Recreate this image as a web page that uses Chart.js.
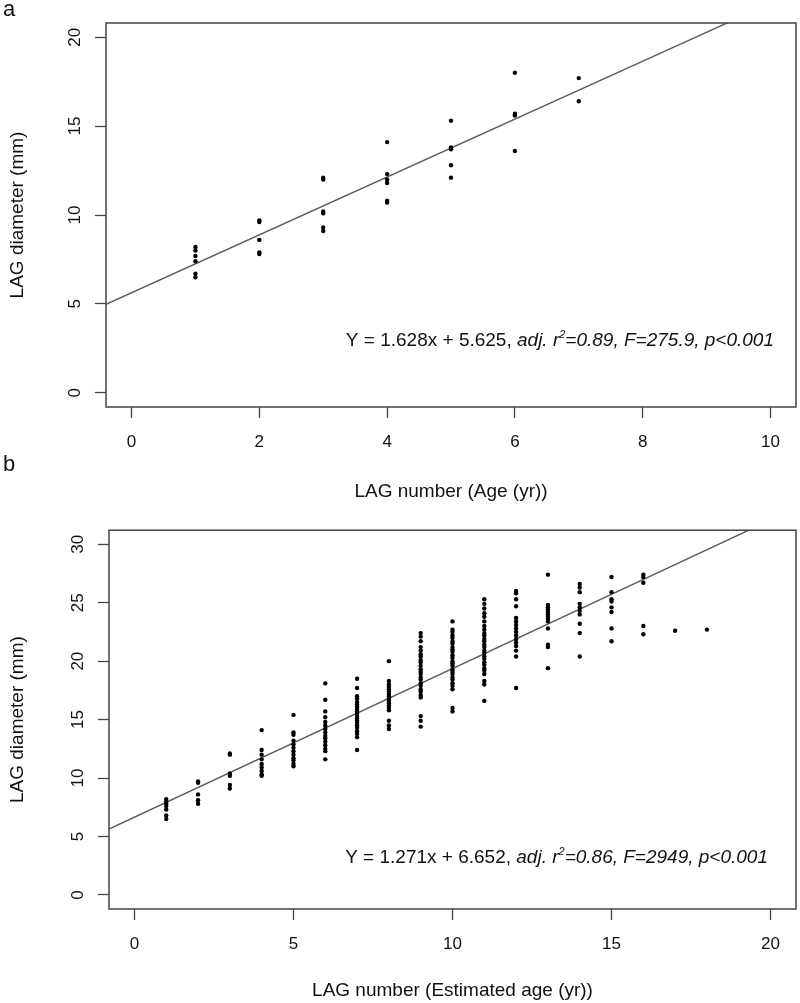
<!DOCTYPE html>
<html>
<head>
<meta charset="utf-8">
<script src="https://cdn.jsdelivr.net/npm/chart.js@4.4.0/dist/chart.umd.min.js"></script>
<style>
  body { margin: 0; background: #fff; width: 800px; height: 1003px; position: relative; overflow: hidden; font-family: "Liberation Sans", Arial, sans-serif; }
  .wrap { position: absolute; left: 0; width: 800px; }
  #wa { top: 0; height: 510px; }
  #wb { top: 510px; height: 493px; }
  .lab { position: absolute; left: 3px; font-size: 22px; color: #111; }
</style>
</head>
<body>
<div class="wrap" id="wa"><canvas id="chartA"></canvas></div>
<div class="wrap" id="wb"><canvas id="chartB"></canvas></div>
<div class="lab" style="top:-4px">a</div>
<div class="lab" style="top:451px">b</div>
<script>
// panel a - known age
const agesA = [1, 2, 3, 4, 5, 6, 7];
const diamA = [
  [8.2, 8.0, 7.7, 7.4, 6.7, 6.5],
  [9.7, 9.6, 8.6, 7.9, 7.8],
  [12.1, 12.0, 10.2, 10.1, 9.3, 9.1],
  [14.1, 12.3, 12.0, 11.8, 10.8, 10.7],
  [15.3, 13.8, 13.7, 12.8, 12.1],
  [18.0, 15.7, 15.6, 13.6],
  [17.7, 16.4]
];
const xTicksA = [0, 2, 4, 6, 8, 10];
const yTicksA = [0, 5, 10, 15, 20];
const fitA = [1.628, 5.625]; // slope, intercept
const noteA = ["Y = 1.628x + 5.625, ", "adj. r", "2", "=0.89, F=275.9, p<0.001"];

// panel b - estimated age
const agesB = [1, 2, 3, 4, 5, 6, 7, 8, 9, 10, 11, 12, 13, 14, 15, 16, 17, 18];
const diamB = [
  [8.2, 8.0, 7.8, 7.6, 7.3, 6.8, 6.5],
  [9.7, 9.6, 8.6, 8.1, 7.8],
  [12.1, 12.0, 10.4, 10.2, 9.4, 9.1],
  [14.1, 12.4, 12.0, 11.6, 11.2, 10.9, 10.6, 10.3, 10.2],
  [15.4, 13.9, 13.7, 13.2, 12.9, 12.6, 12.3, 12.0, 11.7, 11.5, 11.2, 11.0],
  [18.1, 16.7, 15.7, 15.2, 14.8, 14.5, 14.2, 13.9, 13.6, 13.4, 13.1, 12.8, 12.5, 12.3, 11.6],
  [18.5, 17.7, 17.0, 16.8, 16.5, 16.3, 16.1, 15.9, 15.7, 15.5, 15.3, 15.1, 14.9, 14.7, 14.5, 14.3, 14.0, 13.8, 13.5, 12.4],
  [20.0, 18.3, 18.0, 17.8, 17.6, 17.4, 17.2, 17.0, 16.8, 16.6, 16.4, 16.2, 16.0, 15.8, 14.9, 14.5, 14.2],
  [22.4, 22.1, 21.7, 21.2, 20.9, 20.6, 20.4, 20.1, 19.9, 19.6, 19.3, 19.1, 18.9, 18.6, 18.4, 18.1, 17.9, 17.6, 17.4, 17.1, 16.9, 15.3, 14.9, 14.4],
  [23.4, 22.7, 22.5, 22.2, 22.0, 21.7, 21.5, 21.2, 21.0, 20.8, 20.5, 20.3, 20.0, 19.8, 19.6, 19.3, 19.1, 18.9, 18.6, 18.4, 18.1, 17.9, 17.6, 16.0, 15.7],
  [25.3, 24.9, 24.5, 24.1, 23.8, 23.4, 23.0, 22.7, 22.4, 22.2, 21.9, 21.7, 21.4, 21.2, 20.9, 20.7, 20.4, 20.2, 19.9, 19.7, 19.4, 19.2, 18.9, 18.3, 18.0, 16.6],
  [26.0, 25.8, 25.3, 24.7, 23.7, 23.4, 23.1, 22.8, 22.5, 22.2, 21.9, 21.6, 21.3, 20.9, 20.4, 17.7],
  [27.4, 24.8, 24.6, 24.4, 24.2, 24.0, 23.8, 23.6, 23.4, 22.8, 21.4, 21.2, 19.4],
  [26.6, 26.3, 25.9, 24.9, 24.6, 24.3, 24.0, 23.2, 22.4, 20.4],
  [27.2, 25.9, 25.3, 25.1, 24.6, 24.2, 22.8, 21.7],
  [27.4, 27.2, 26.7, 23.0, 22.3],
  [22.6],
  [22.7]
];
const xTicksB = [0, 5, 10, 15, 20];
const yTicksB = [0, 5, 10, 15, 20, 25, 30];
const fitB = [1.271, 6.652];
const noteB = ["Y = 1.271x + 6.652, ", "adj. r", "2", "=0.86, F=2949, p<0.001"];

const FONT = '"Liberation Sans", Arial, sans-serif';
const INK = '#111';
const AXIS = '#444';

// box around plot + regression note
const boxNote = {
  id: 'boxNote',
  afterDraw(chart) {
    const o = chart.options.plugins.boxNote;
    const a = chart.chartArea;
    const ctx = chart.ctx;
    ctx.save();
    ctx.strokeStyle = AXIS;
    ctx.lineWidth = 1.5;
    ctx.strokeRect(a.left, a.top, a.right - a.left, a.bottom - a.top);

    const parts = [
      { t: o.text[0], f: '19px ' + FONT, dy: 0 },
      { t: o.text[1], f: 'italic 19px ' + FONT, dy: 0 },
      { t: o.text[2], f: 'italic 11px ' + FONT, dy: -6 },
      { t: o.text[3], f: 'italic 19px ' + FONT, dy: 0 }
    ];
    let w = 0;
    parts.forEach(p => { ctx.font = p.f; p.w = ctx.measureText(p.t).width; w += p.w; });
    let x = o.right - w;
    ctx.fillStyle = INK;
    ctx.textBaseline = 'middle';
    ctx.textAlign = 'left';
    parts.forEach(p => { ctx.font = p.f; ctx.fillText(p.t, x, o.y + p.dy); x += p.w; });
    ctx.restore();
  }
};

function makeChart(id, ages, diam, fit, xr, yr, xt, yt, xTitle, note, lay) {
  const pts = ages.flatMap((a, i) => diam[i].map(d => ({ x: a, y: d })));
  const line = [
    { x: xr[0], y: fit[0] * xr[0] + fit[1] },
    { x: xr[1], y: fit[0] * xr[1] + fit[1] }
  ];
  return new Chart(document.getElementById(id), {
    type: 'scatter',
    data: {
      datasets: [
        { data: pts, pointRadius: 2.2, pointBackgroundColor: '#000', pointBorderWidth: 0 },
        { type: 'line', data: line, borderColor: '#5a5a5a', borderWidth: 1.4, pointRadius: 0, fill: false }
      ]
    },
    options: {
      responsive: true,
      maintainAspectRatio: false,
      animation: false,
      layout: { padding: lay.pad },
      plugins: {
        legend: { display: false },
        tooltip: { enabled: false },
        boxNote: note
      },
      scales: {
        x: {
          type: 'linear', min: xr[0], max: xr[1],
          afterBuildTicks: s => { s.ticks = xt.map(v => ({ value: v })); },
          afterFit: s => { s.height = lay.xh; },
          border: { display: false },
          grid: { drawOnChartArea: false, tickLength: 11, tickColor: AXIS, tickWidth: 1.3 },
          ticks: { font: { family: FONT, size: 17 }, color: INK, padding: 14, maxRotation: 0, autoSkip: false },
          title: { display: true, text: xTitle, color: INK, font: { family: FONT, size: 19 }, padding: { top: 0, bottom: lay.tb } }
        },
        y: {
          type: 'linear', min: yr[0], max: yr[1],
          afterBuildTicks: s => { s.ticks = yt.map(v => ({ value: v })); },
          afterFit: s => { s.width = lay.yw; },
          border: { display: false },
          grid: { drawOnChartArea: false, tickLength: 11, tickColor: AXIS, tickWidth: 1.3 },
          ticks: { font: { family: FONT, size: 17 }, color: INK, padding: 10, minRotation: 90, maxRotation: 90, crossAlign: 'center', autoSkip: false },
          title: { display: true, text: 'LAG diameter (mm)', color: INK, font: { family: FONT, size: 19 }, padding: { top: 6, bottom: 0 } }
        }
      }
    },
    plugins: [boxNote]
  });
}

makeChart('chartA', agesA, diamA, fitA, [-0.4, 10.4], [-0.8, 20.8], xTicksA, yTicksA,
  'LAG number (Age (yr))',
  { text: noteA, right: 774, y: 341 },
  { pad: { left: 0, top: 23, right: 2, bottom: 0 }, xh: 103, yw: 106, tb: 7 });

makeChart('chartB', agesB, diamB, fitB, [-0.8, 20.8], [-1.2, 31.2], xTicksB, yTicksB,
  'LAG number (Estimated age (yr))',
  { text: noteB, right: 768, y: 348 },
  { pad: { left: 0, top: 19, right: 3, bottom: 0 }, xh: 94, yw: 109, tb: 1 });
</script>
</body>
</html>
